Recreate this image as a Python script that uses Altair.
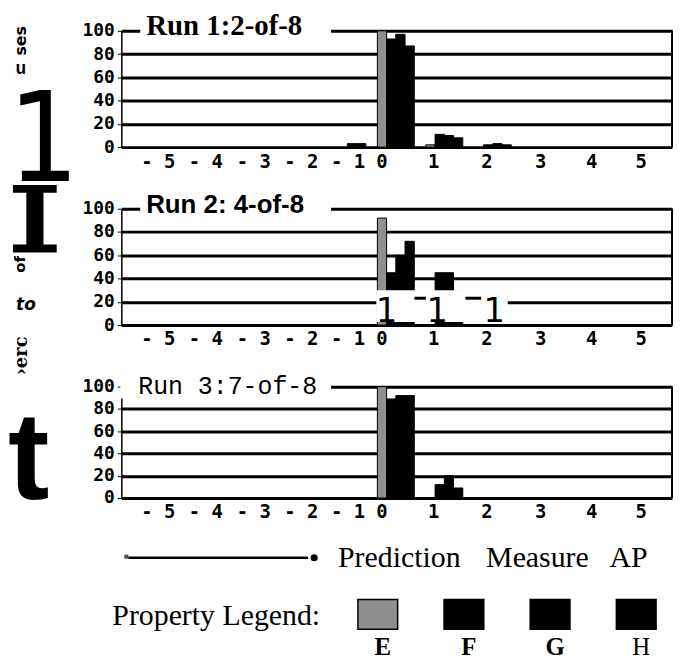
import altair as alt
import pandas as pd

# ---------------- data ----------------
props = ["E", "F", "G", "H"]
bin_labels = [-1, 0, 1, 2]            # prediction-measure bins
bin_x = [-0.93, 0.0, 0.93, 1.86]      # where each bin's bar group starts on the axis
runs = ["Run 1:2-of-8", "Run 2: 4-of-8", "Run 3:7-of-8"]

# percent of cases per bin (-1, 0, 1, 2) for each property
run1_E = [0, 100, 2, 0]
run1_F = [0, 93, 11, 2]
run1_G = [3, 97, 10, 3]
run1_H = [3, 87, 8, 2]

run2_E = [0, 92, 0, 0]
run2_F = [0, 45, 45, 0]
run2_G = [0, 60, 45, 0]
run2_H = [0, 72, 29, 0]

run3_E = [0, 100, 0, 0]
run3_F = [0, 89, 12, 0]
run3_G = [0, 92, 20, 0]
run3_H = [0, 92, 9, 0]

tick_pos = [-4.21, -3.30, -2.38, -1.47, -0.57, 0.08, 1.07, 2.09, 3.12, 4.1, 5.05]
tick_labels = ["- 5", "- 4", "- 3", "- 2", "- 1", "0", "1", "2", "3", "4", "5"]
y_ticks = [0, 20, 40, 60, 80, 100]

rows = []
for run, series in zip(runs, [
    [run1_E, run1_F, run1_G, run1_H],
    [run2_E, run2_F, run2_G, run2_H],
    [run3_E, run3_F, run3_G, run3_H],
]):
    for p, arr in zip(props, series):
        for b, bx, v in zip(bin_labels, bin_x, arr):
            if v > 0:
                rows.append({"run": run, "prop": p, "bin": b, "bin_x": bx, "value": v})
df = pd.DataFrame(rows)
one = pd.DataFrame({"k": [0]})

# ---------------- styling ----------------
W = 554
H1, H2, H3 = 117, 117, 112
BAR_W = 0.177
X_DOMAIN = [-4.91, 5.65]
MONO = "DejaVu Sans Mono"
SERIF = "Liberation Serif"


def px(v):
    """pixel position of an x value inside a panel (annotations only)"""
    return (v - X_DOMAIN[0]) / (X_DOMAIN[1] - X_DOMAIN[0]) * W


x_scale = alt.Scale(domain=X_DOMAIN, nice=False, zero=False)
y_scale = alt.Scale(domain=[0, 100], nice=False, zero=True)
color_scale = alt.Scale(domain=props, range=["#8f8f8f", "#000000", "#000000", "#000000"])

props_js = "[" + ",".join(f"'{p}'" for p in props) + "]"
label_expr = ("[" + ",".join(f"'{l}'" for l in tick_labels) + "][indexof(["
              + ",".join(str(p) for p in tick_pos) + "], datum.value)]")


def text_layer(txt, x, y, size, font="DejaVu Sans", weight="normal", style="normal",
               angle=0, align="center", baseline="middle"):
    kw = dict(font=font, fontSize=size, fontWeight=weight, fontStyle=style,
              align=align, baseline=baseline, color="black")
    if angle:
        kw["angle"] = angle
    return alt.Chart(one).mark_text(**kw).encode(
        x=alt.value(x), y=alt.value(y), text=alt.value(txt))


def white_box(x, x2, y, y2):
    return alt.Chart(one).mark_rect(color="white").encode(
        x=alt.value(x), x2=alt.value(x2), y=alt.value(y), y2=alt.value(y2))


def hrule(x, x2, y, width=3):
    return alt.Chart(one).mark_rule(color="black", strokeWidth=width).encode(
        x=alt.value(x), x2=alt.value(x2), y=alt.value(y))


def bar_layer(run):
    return alt.Chart(df).transform_filter(alt.datum.run == run).transform_calculate(
        x0=f"datum.bin_x + indexof({props_js}, datum.prop) * {BAR_W}",
        x1=f"datum.bin_x + (indexof({props_js}, datum.prop) + 1) * {BAR_W}",
    ).mark_rect(stroke="black", strokeWidth=1).encode(
        x=alt.X("x0:Q", scale=x_scale, title=None,
                axis=alt.Axis(values=tick_pos, labelExpr=label_expr, grid=False,
                              domain=False, ticks=False, labelFont=MONO,
                              labelFontSize=19, labelFontWeight="bold",
                              labelColor="black", labelPadding=5,
                              labelOverlap=False, labelFlush=False, labelBound=False)),
        x2="x1:Q",
        y=alt.Y("value:Q", scale=y_scale, title=None,
                axis=alt.Axis(values=y_ticks, grid=True, gridColor="black",
                              gridWidth=3, gridOpacity=1, domain=True,
                              domainColor="black", domainWidth=1.5,
                              ticks=True, tickColor="black", tickSize=4,
                              labelFont=MONO, labelFontSize=18,
                              labelFontWeight="bold", labelColor="black",
                              labelPadding=3)),
        y2=alt.Y2(datum=0),
        color=alt.Color("prop:N", scale=color_scale, legend=None),
    )


def right_border(h):
    return alt.Chart(one).mark_rule(color="black", strokeWidth=2).encode(
        x=alt.value(W), y=alt.value(0), y2=alt.value(h))


# invisible anchors fixing the chart's top-left corner
anchor_left = alt.Chart(one).mark_rule(strokeOpacity=0).encode(
    x=alt.value(-114), y=alt.value(20), y2=alt.value(21))
anchor_top = alt.Chart(one).mark_rule(strokeOpacity=0).encode(
    x=alt.value(10), x2=alt.value(11), y=alt.value(-21))

# ---------------- panel 1 ----------------
p1 = alt.layer(
    bar_layer(runs[0]),
    right_border(H1),
    white_box(19, 211, -16, 4),
    text_layer(runs[0], 25, -5, 29, font=SERIF, weight="bold", align="left"),
    text_layer("ses", -101, 10, 16, weight="bold", angle=270),
    text_layer("u", -101, 38, 18, font="Liberation Mono", weight="bold"),
    text_layer("1", -114, 151, 125, font="DejaVu Sans Condensed", align="left",
               baseline="alphabetic"),
    anchor_left,
    anchor_top,
).properties(width=W, height=H1)

# ---------------- panel 2 ----------------
# scan damage in the lower part of run 2 (blank band with stray "1" glyphs)
p2 = alt.layer(
    bar_layer(runs[1]),
    right_border(H2),
    white_box(19, 211, -16, 4),
    white_box(px(-0.02), px(2.5), 82, 114),
    text_layer("1", px(0.175), 114, 34, baseline="alphabetic"),
    text_layer("1", px(1.15), 114, 34, baseline="alphabetic"),
    text_layer("1", px(2.24), 114, 34, baseline="alphabetic"),
    hrule(px(0.71), px(0.93), 90),
    hrule(px(1.69), px(1.99), 90),
    text_layer(runs[1], 25, -4, 26, font="Liberation Sans", weight="bold", align="left"),
    text_layer("I", -87, 44, 92, font="DejaVu Serif", weight="bold",
               baseline="alphabetic"),
    hrule(-109, -65, -20, width=8),
    hrule(-109, -65, 40, width=8),
    text_layer("of", -102, 56, 15, weight="bold", angle=270),
    text_layer("to", -96, 97, 17, weight="bold", style="italic"),
).properties(width=W, height=H2)

# ---------------- panel 3 + legend ----------------
legend_x = alt.X("prop:N", axis=None,
                 scale=alt.Scale(type="point", domain=props, range=[258, 518], padding=0))
swatches = alt.Chart(pd.DataFrame({"prop": props})).mark_point(
    filled=True, opacity=1, stroke="black", strokeWidth=1.5,
    shape="M-1,-0.75L1,-0.75L1,0.75L-1,0.75Z", size=1600,
).encode(x=legend_x, y=alt.value(229),
         fill=alt.Fill("prop:N", scale=color_scale, legend=None))
sw_labels_bold = alt.Chart(pd.DataFrame({"prop": props[:3]})).mark_text(
    font=SERIF, fontSize=25, fontWeight="bold", color="black", dx=5,
    baseline="alphabetic"
).encode(x=legend_x, y=alt.value(270), text="prop:N")
sw_labels_reg = alt.Chart(pd.DataFrame({"prop": props[3:]})).mark_text(
    font=SERIF, fontSize=25, fontWeight="normal", color="black", dx=5,
    baseline="alphabetic"
).encode(x=legend_x, y=alt.value(270), text="prop:N")

p3 = alt.layer(
    bar_layer(runs[2]),
    right_border(H3),
    white_box(-1, 211, -14, 12),
    text_layer(runs[2], 17, -1, 25, font="Liberation Mono", align="left"),
    text_layer("\u203aerc", -100, -31, 18, font="DejaVu Serif", weight="bold", angle=270),
    text_layer("t", -114, 113, 125, font="Liberation Sans", weight="bold",
               align="left", baseline="alphabetic"),
    hrule(7, 188, 172, width=2.5),
    alt.Chart(one).mark_point(shape="square", filled=True, color="black", size=16).encode(
        x=alt.value(5), y=alt.value(171)),
    alt.Chart(one).mark_point(shape="circle", filled=True, color="black", opacity=1,
                              size=50).encode(x=alt.value(194), y=alt.value(172)),
    text_layer("Prediction", 218, 181, 30, font=SERIF, align="left", baseline="alphabetic"),
    text_layer("Measure", 367, 181, 30, font=SERIF, align="left", baseline="alphabetic"),
    text_layer("AP", 491, 181, 30, font=SERIF, align="left", baseline="alphabetic"),
    text_layer("Property Legend:", 200, 240, 30, font=SERIF, align="right",
               baseline="alphabetic"),
    swatches,
    sw_labels_bold,
    sw_labels_reg,
).resolve_scale(x="independent").properties(width=W, height=H3)

chart = alt.vconcat(p1, p2, p3, spacing=62, bounds="flush").configure_view(
    stroke=None
).properties(background="white", padding=0)

chart.save("out.html", embed_options={"renderer": "svg", "actions": False})
